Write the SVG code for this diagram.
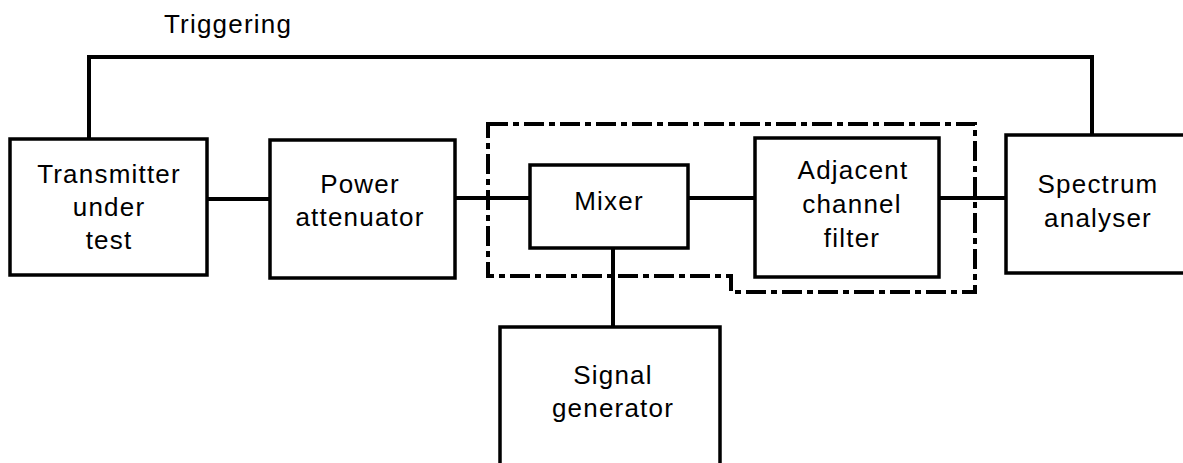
<svg xmlns="http://www.w3.org/2000/svg" width="1183" height="463" viewBox="0 0 1183 463">
<style>
.box{fill:#fff;stroke:#000;stroke-width:3.5}
.ln{fill:none;stroke:#000;stroke-width:4}
.dd{fill:none;stroke:#000;stroke-width:4;stroke-dasharray:20 5 6 5}
text{font-family:"Liberation Sans",Arial,sans-serif;font-size:26px;letter-spacing:1.2px;fill:#000;text-anchor:middle}
</style>
<rect width="1183" height="463" fill="#fff"/>
<g id="connectors">
<polyline class="ln" points="89,139 89,57 1092,57 1092,135"/>
<line class="ln" x1="207" y1="199" x2="270" y2="199"/>
<line class="ln" x1="455" y1="198" x2="530" y2="198"/>
<line class="ln" x1="688" y1="198" x2="755" y2="198"/>
<line class="ln" x1="939" y1="198" x2="1006" y2="198"/>
<line class="ln" x1="613" y1="248" x2="613" y2="327"/>
</g>
<g id="label-triggering"><text x="228" y="33">Triggering</text></g>
<g id="boundary"><path class="dd" d="M488,124 H975 V292 H731 V276 H488 Z"/></g>
<g id="transmitter">
<rect class="box" x="10" y="139" width="197" height="136"/>
<text x="109" y="183">Transmitter</text>
<text x="109" y="216">under</text>
<text x="109" y="249">test</text>
</g>
<g id="attenuator">
<rect class="box" x="270" y="140" width="185" height="138"/>
<text x="360" y="193">Power</text>
<text x="360" y="226">attenuator</text>
</g>
<g id="mixer">
<rect class="box" x="530" y="165" width="158" height="83"/>
<text x="609" y="210">Mixer</text>
</g>
<g id="filter">
<rect class="box" x="755" y="138" width="184" height="139"/>
<text x="853" y="179">Adjacent</text>
<text x="852" y="213">channel</text>
<text x="852" y="247">filter</text>
</g>
<g id="analyser">
<rect class="box" x="1006" y="135" width="185" height="138"/>
<text x="1098" y="193">Spectrum</text>
<text x="1098" y="227">analyser</text>
</g>
<g id="generator">
<rect class="box" x="500" y="327" width="220" height="150"/>
<text x="613" y="384">Signal</text>
<text x="613" y="417">generator</text>
</g>
</svg>
